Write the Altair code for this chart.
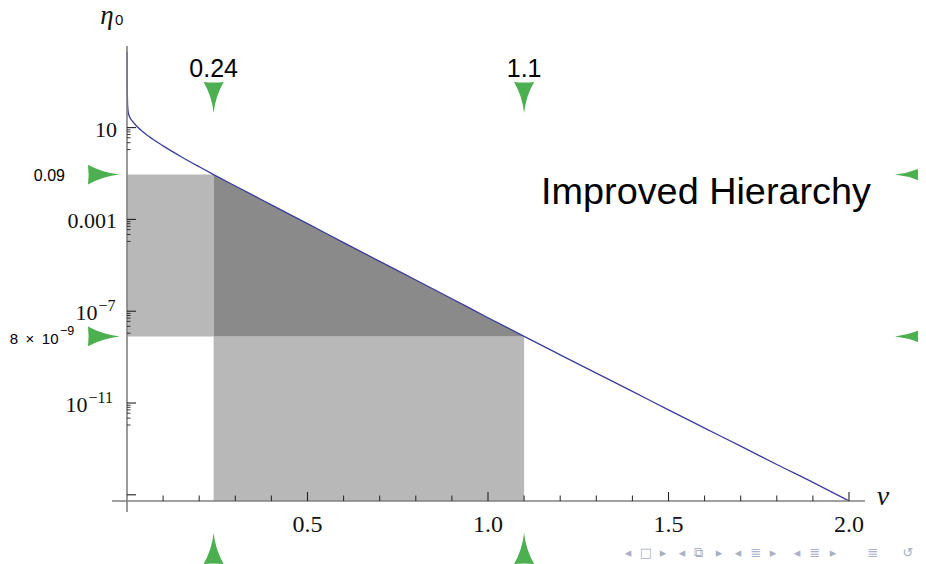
import altair as alt
import pandas as pd

# ---- curve eta_0(nu) ----
nu = [0.0001, 0.0004, 0.001, 0.002, 0.0036, 0.007, 0.015, 0.03, 0.06, 0.1,
      0.15, 0.2, 0.24, 0.3, 0.4, 0.5, 0.6, 0.7, 0.8,
      0.9, 1.0, 1.1, 1.2, 1.3, 1.4, 1.5, 1.6, 1.7, 1.8, 1.9, 2.0]
eta = [2.0e4, 1.6e3, 2.5e2, 80.0, 45.0, 30.0, 19.0, 10.3, 4.2, 1.6,
       0.54, 0.197, 0.09, 2.86e-2, 4.3e-3, 6.5e-4, 9.8e-5,
       1.48e-5, 2.3e-6, 3.5e-7, 5.2e-8, 8.0e-9, 1.26e-9, 2.0e-10, 3.2e-11,
       5.0e-12, 8.1e-13, 1.32e-13, 2.1e-14, 3.5e-15, 5.4e-16]

# ---- marked values ----
nu_marks = [0.24, 1.1]
nu_mark_labels = ["0.24", "1.1"]
eta_marks = [0.09, 8e-9]

# ---- axes ----
x_domain = [0.0, 2.0]
eta_domain = [10 ** -15.27, 10 ** 4.556]
x_major = [0.5, 1.0, 1.5, 2.0]
x_major_labels = ["0.5", "1.0", "1.5", "2.0"]
x_minor = [0.1, 0.2, 0.3, 0.4, 0.6, 0.7, 0.8, 0.9, 1.1, 1.2, 1.3, 1.4,
           1.6, 1.7, 1.8, 1.9]
y_major = [10, 1e-3, 1e-7, 1e-11, 1e-15]
y_base = ["10", "0.001", "10", "10", ""]
y_exp = ["", "", "\u22127", "\u221211", ""]
y_minor_factors = [0.8, 0.65, 0.5, 0.36, 0.22, 0.11]

title_text = "Improved Hierarchy"
nav_symbols = ["\u25C2", "\u25A1", "\u25B8", "\u25C2", "\u29C9", "\u25B8",
               "\u25C2", "\u2263", "\u25B8", "\u25C2", "\u2263", "\u25B8",
               "\u2263", "\u21BA"]

GREEN = "#4caf50"
LIGHT = "#b8b8b8"
DARK = "#8a8a8a"
CURVE = "#3c3c9a"
AXIS = "#808080"

xs = alt.Scale(domain=x_domain, nice=False, zero=False)
ys = alt.Scale(type="log", domain=eta_domain, nice=False)

curve_df = pd.DataFrame({"nu": nu, "eta": eta})
dark_df = curve_df[(curve_df.nu >= nu_marks[0]) & (curve_df.nu <= nu_marks[1])]

rect_df = pd.DataFrame({
    "x": [0.0, nu_marks[0]],
    "x2": [nu_marks[0], nu_marks[1]],
    "y": [eta_marks[1], eta_domain[0]],
    "y2": [eta_marks[0], eta_marks[1]],
})

rects = alt.Chart(rect_df).mark_rect(color=LIGHT).encode(
    x=alt.X("x:Q", scale=xs, axis=None), x2="x2:Q",
    y=alt.Y("y:Q", scale=ys, axis=None), y2="y2:Q")

dark = alt.Chart(dark_df).mark_area(color=DARK, opacity=1).encode(
    x=alt.X("nu:Q", scale=xs, axis=None),
    y=alt.Y("eta:Q", scale=ys, axis=None),
    y2=alt.datum(eta_marks[1]))

line = alt.Chart(curve_df).mark_line(color=CURVE, strokeWidth=1.3,
                                     interpolate="monotone").encode(
    x=alt.X("nu:Q", scale=xs, axis=None),
    y=alt.Y("eta:Q", scale=ys, axis=None))

# axis lines
axis_df = pd.DataFrame({"a": [0]})
x_axis_line = alt.Chart(axis_df).mark_rule(color=AXIS, strokeWidth=1.6).encode(
    x=alt.value(-15), x2=alt.value(738), y=alt.value(455))
y_axis_line = alt.Chart(axis_df).mark_rule(color=AXIS, strokeWidth=1.6).encode(
    x=alt.value(0), y=alt.value(0), y2=alt.value(466))

# x ticks
xmaj_df = pd.DataFrame({"t": x_major, "lab": x_major_labels})
xmin_df = pd.DataFrame({"t": x_minor})
x_major_ticks = alt.Chart(xmaj_df).mark_rule(color="#222", strokeWidth=1.1).encode(
    x=alt.X("t:Q", scale=xs, axis=None), y=alt.value(455), y2=alt.value(446))
x_minor_ticks = alt.Chart(xmin_df).mark_rule(color="#222", strokeWidth=1).encode(
    x=alt.X("t:Q", scale=xs, axis=None), y=alt.value(455), y2=alt.value(449.5))
x_labels = alt.Chart(xmaj_df).mark_text(
    font="Liberation Serif", fontSize=24, align="center", baseline="alphabetic",
    color="#111").encode(
    x=alt.X("t:Q", scale=xs, axis=None), y=alt.value(486), text="lab:N")

# y ticks
ylab_df = pd.DataFrame({"v": y_major, "base": y_base, "exp": y_exp})
ylab_df["bx"] = [-10 - (10 * len(e) - 0.5 if e else 0) for e in y_exp]
ylab_df["ex"] = ylab_df["bx"] + 1
ymin_df = pd.DataFrame({"v": [m * f for m in y_major[:-1] for f in y_minor_factors]})
y_major_ticks = alt.Chart(ylab_df).mark_rule(color="#222", strokeWidth=1.1).encode(
    y=alt.Y("v:Q", scale=ys, axis=None), x=alt.value(0), x2=alt.value(9))
y_minor_ticks = alt.Chart(ymin_df).mark_rule(color="#222", strokeWidth=0.9).encode(
    y=alt.Y("v:Q", scale=ys, axis=None), x=alt.value(0), x2=alt.value(3.5))
y_base_labels = alt.Chart(ylab_df).mark_text(
    font="Liberation Serif", fontSize=22, align="right", baseline="alphabetic",
    dy=9, color="#111").encode(
    y=alt.Y("v:Q", scale=ys, axis=None), x=alt.X("bx:Q", scale=None), text="base:N")
y_exp_labels = alt.Chart(ylab_df).mark_text(
    font="Liberation Serif", fontSize=16, align="left", baseline="alphabetic",
    dy=0, color="#111").encode(
    y=alt.Y("v:Q", scale=ys, axis=None), x=alt.X("ex:Q", scale=None), text="exp:N")

# axis titles
eta_lab = alt.Chart(pd.DataFrame({"t": ["\u03B7"]})).mark_text(
    font="Liberation Serif", fontSize=27, fontStyle="italic", align="center",
    baseline="alphabetic", color="#111").encode(
    x=alt.value(-20), y=alt.value(-22), text="t:N")
eta_sub = alt.Chart(pd.DataFrame({"t": ["0"]})).mark_text(
    font="Liberation Sans", fontSize=15, align="left", baseline="alphabetic",
    color="#111").encode(x=alt.value(-12), y=alt.value(-21), text="t:N")
nu_lab = alt.Chart(pd.DataFrame({"t": ["\u03BD"]})).mark_text(
    font="Liberation Serif", fontSize=28, fontStyle="italic", align="center",
    baseline="alphabetic", color="#111").encode(
    x=alt.value(756), y=alt.value(459), text="t:N")

# green markers
DOWN = "M -0.65 -1 Q 0 -0.92 0.65 -1 Q 0.12 -0.1 0 1 Q -0.12 -0.1 -0.65 -1 Z"
UP = "M -0.65 1 Q 0 0.92 0.65 1 Q 0.12 0.1 0 -1 Q -0.12 0.1 -0.65 1 Z"
RIGHT = "M -1 -0.62 Q -0.92 0 -1 0.62 Q -0.1 0.12 1 0 Q -0.1 -0.12 -1 -0.62 Z"
LEFT = "M 1 -0.62 Q 0.92 0 1 0.62 Q 0.1 0.12 -1 0 Q 0.1 -0.12 1 -0.62 Z"

numk_df = pd.DataFrame({"nu": nu_marks, "lab": nu_mark_labels})
etamk_df = pd.DataFrame({"eta": eta_marks})


def tri_x(shape, ypix):
    return alt.Chart(numk_df).mark_point(
        shape=shape, filled=True, size=961, color=GREEN, opacity=1,
        strokeWidth=0).encode(
        x=alt.X("nu:Q", scale=xs, axis=None), y=alt.value(ypix))


def tri_y(shape, xpix):
    return alt.Chart(etamk_df).mark_point(
        shape=shape, filled=True, size=1024, color=GREEN, opacity=1,
        strokeWidth=0).encode(
        y=alt.Y("eta:Q", scale=ys, axis=None), x=alt.value(xpix))


top_tri = tri_x(DOWN, 51.5)
bot_tri = tri_x(UP, 502.5)
left_tri = tri_y(RIGHT, -23)
right_tri = tri_y(LEFT, 784)

top_labels = alt.Chart(numk_df).mark_text(
    font="Liberation Sans", fontSize=25, align="center", baseline="alphabetic",
    color="#000").encode(
    x=alt.X("nu:Q", scale=xs, axis=None), y=alt.value(31), text="lab:N")

lab09 = alt.Chart(pd.DataFrame({"eta": [eta_marks[0]], "t": ["0.09"]})).mark_text(
    font="Liberation Sans", fontSize=16, align="right", baseline="alphabetic",
    dy=6, color="#000").encode(
    y=alt.Y("eta:Q", scale=ys, axis=None), x=alt.value(-62), text="t:N")
lab8 = alt.Chart(pd.DataFrame({"eta": [eta_marks[1]],
                               "t": ["8\u2002\u00D7\u200210"]})).mark_text(
    font="Liberation Sans", fontSize=15, align="right", baseline="alphabetic",
    dy=7.5, color="#000").encode(
    y=alt.Y("eta:Q", scale=ys, axis=None), x=alt.value(-68.5), text="t:N")
lab8e = alt.Chart(pd.DataFrame({"eta": [eta_marks[1]], "t": ["\u22129"]})).mark_text(
    font="Liberation Sans", fontSize=12.5, align="left", baseline="alphabetic",
    dy=-1, color="#000").encode(
    y=alt.Y("eta:Q", scale=ys, axis=None), x=alt.value(-67), text="t:N")

title = alt.Chart(pd.DataFrame({"t": [title_text]})).mark_text(
    font="Liberation Sans", fontSize=37.8, align="center", baseline="alphabetic",
    color="#000").encode(x=alt.value(579), y=alt.value(158), text="t:N")

nav_x = [501, 519, 536, 555, 571, 592, 611, 629, 646, 670, 688, 706, 746, 781]
nav = alt.Chart(pd.DataFrame({"s": nav_symbols, "px": nav_x})).mark_text(
    font="DejaVu Sans", fontSize=13, align="center", baseline="middle",
    color="#a9afc7").encode(
    x=alt.X("px:Q", scale=None), y=alt.value(507), text="s:N")

chart = alt.layer(
    rects, dark, line,
    x_axis_line, y_axis_line,
    x_major_ticks, x_minor_ticks, x_labels,
    y_major_ticks, y_minor_ticks, y_base_labels, y_exp_labels,
    eta_lab, eta_sub, nu_lab,
    top_tri, bot_tri, left_tri, right_tri,
    top_labels, lab09, lab8, lab8e, title, nav,
).properties(
    width=722, height=455,
    autosize=alt.AutoSizeParams(type="none"),
    padding={"left": 119, "top": 38, "right": 69, "bottom": 63},
).configure(background="white", view=alt.ViewConfig(stroke=None))

chart.save("out.html", embed_options={"renderer": "svg", "actions": False})
